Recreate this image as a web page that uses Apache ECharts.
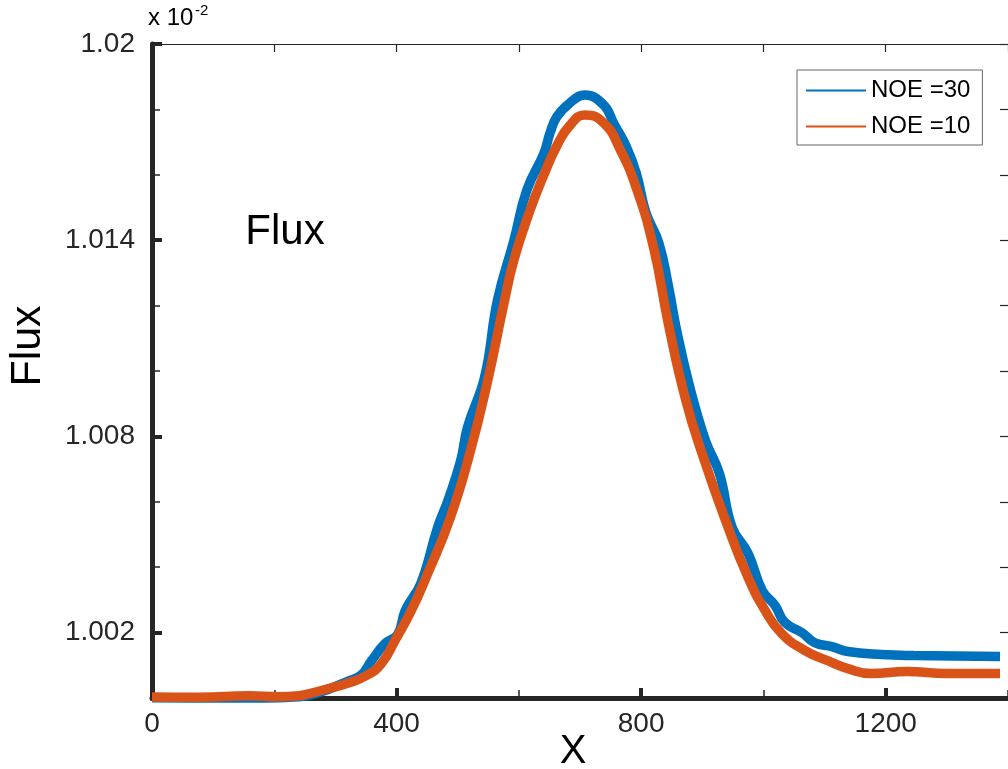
<!DOCTYPE html>
<html>
<head>
<meta charset="utf-8">
<script src="https://cdn.jsdelivr.net/npm/echarts@6/dist/echarts.min.js"></script>
<style>
html,body{margin:0;padding:0;background:#fff;}
#chart{width:1008px;height:769px;}
</style>
</head>
<body>
<div id="chart"></div>
<script>
// ---- data ----
const x30 = [0, 78, 159, 208, 240, 256, 289, 321, 342, 359, 381, 402, 414, 440, 467, 484, 505, 516, 544, 565, 592, 613, 641, 651, 662, 683, 708, 739, 755, 776, 792, 808, 829, 845, 857, 878, 905, 928, 949, 975, 998, 1019, 1035, 1063, 1084, 1112, 1138, 1193, 1246, 1387];
const y30 = [1.00001, 1.00000, 1.00000, 1.00001, 1.00004, 1.00008, 1.00027, 1.00052, 1.00070, 1.00114, 1.00166, 1.00195, 1.00267, 1.00352, 1.00521, 1.00604, 1.00727, 1.00828, 1.00981, 1.01216, 1.01400, 1.01553, 1.01666, 1.01728, 1.01777, 1.01819, 1.01844, 1.01813, 1.01758, 1.01685, 1.01605, 1.01483, 1.01391, 1.01256, 1.01134, 1.00962, 1.00788, 1.00687, 1.00521, 1.00442, 1.00329, 1.00283, 1.00231, 1.00200, 1.00169, 1.00157, 1.00142, 1.00133, 1.00130, 1.00127];
const x10 = [0, 78, 159, 208, 240, 256, 289, 321, 350, 375, 398, 424, 451, 488, 521, 548, 576, 592, 618, 641, 662, 683, 708, 739, 765, 792, 820, 845, 873, 901, 938, 975, 1003, 1030, 1068, 1105, 1138, 1176, 1235, 1300, 1387];
const y10 = [1.00003, 1.00002, 1.00007, 1.00004, 1.00007, 1.00013, 1.00029, 1.00046, 1.00068, 1.00105, 1.00178, 1.00267, 1.00381, 1.00552, 1.00757, 1.00962, 1.01210, 1.01340, 1.01490, 1.01600, 1.01688, 1.01750, 1.01783, 1.01758, 1.01680, 1.01560, 1.01380, 1.01140, 1.00911, 1.00740, 1.00543, 1.00368, 1.00267, 1.00197, 1.00145, 1.00114, 1.00090, 1.00075, 1.00081, 1.00075, 1.00075];
const seriesNames = ['NOE =30', 'NOE =10'];
const xLabelValues = [0, 400, 800, 1200];
const yLabelValues = [1.002, 1.008, 1.014, 1.02];
const yLabelTexts = ['1.002', '1.008', '1.014', '1.02'];

const FONT = 'Liberation Sans, Arial, sans-serif';
const AX = '#262626';
const chart = echarts.init(document.getElementById('chart'), null, {renderer: 'canvas'});

const xBase = {type: 'value', min: 0, max: 1400, gridIndex: 0, splitLine: {show: false}};
const yBase = {type: 'value', min: 1.0, max: 1.02, gridIndex: 0, splitLine: {show: false}};

const option = {
  animation: false,
  backgroundColor: '#fff',
  grid: {left: 152, top: 44, width: 863, height: 654},
  xAxis: [
    Object.assign({}, xBase, {
      position: 'bottom', interval: 200,
      axisLine: {show: true, onZero: false, lineStyle: {color: AX, width: 5}},
      axisTick: {show: true, inside: true, length: 8, lineStyle: {color: AX, width: 1.5}},
      axisLabel: {show: true, customValues: xLabelValues, margin: 12, color: AX, fontSize: 28, fontFamily: FONT,
        formatter: function (v) { return String(Math.round(v)); }}
    }),
    Object.assign({}, xBase, {
      position: 'bottom', interval: 200,
      axisLine: {show: false, onZero: false},
      axisTick: {show: true, inside: true, length: 10, customValues: xLabelValues, lineStyle: {color: AX, width: 4}},
      axisLabel: {show: false}
    }),
    Object.assign({}, xBase, {
      position: 'top', interval: 200,
      axisLine: {show: true, onZero: false, lineStyle: {color: AX, width: 1}},
      axisTick: {show: true, inside: true, length: 8, lineStyle: {color: AX, width: 1.2}},
      axisLabel: {show: false}
    })
  ],
  yAxis: [
    Object.assign({}, yBase, {
      position: 'left', interval: 0.002,
      axisLine: {show: true, onZero: false, lineStyle: {color: AX, width: 5}},
      axisTick: {show: true, inside: true, length: 8, lineStyle: {color: AX, width: 1.5}},
      axisLabel: {
        show: true, customValues: yLabelValues, margin: 17, color: AX, fontSize: 28, fontFamily: FONT,
        formatter: function (v) {
          let best = 0;
          yLabelValues.forEach(function (lv, i) { if (Math.abs(lv - v) < Math.abs(yLabelValues[best] - v)) best = i; });
          return yLabelTexts[best];
        }
      }
    }),
    Object.assign({}, yBase, {
      position: 'left', interval: 0.002,
      axisLine: {show: false, onZero: false},
      axisTick: {show: true, inside: true, length: 10, customValues: yLabelValues, lineStyle: {color: AX, width: 4}},
      axisLabel: {show: false}
    }),
    Object.assign({}, yBase, {
      position: 'right', interval: 0.002,
      axisLine: {show: true, onZero: false, lineStyle: {color: AX, width: 1}},
      axisTick: {show: true, inside: true, length: 8, lineStyle: {color: AX, width: 1.2}},
      axisLabel: {show: false}
    })
  ],
  legend: {
    show: true, orient: 'vertical', left: 797, top: 70,
    padding: [7, 12, 5, 9], itemGap: 9, itemWidth: 60, itemHeight: 2, icon: 'rect',
    borderColor: '#666', borderWidth: 1, backgroundColor: '#fff', borderRadius: 0,
    textStyle: {fontSize: 24, fontFamily: FONT, color: '#000', lineHeight: 27},
    data: seriesNames
  },
  series: [
    {
      type: 'line', name: seriesNames[0], xAxisIndex: 0, yAxisIndex: 0,
      data: x30.map(function (x, i) { return [x, y30[i]]; }),
      symbol: 'none', showSymbol: false, smooth: 0.45, clip: false,
      lineStyle: {color: '#0072BD', width: 9.5}, itemStyle: {color: '#0072BD'}
    },
    {
      type: 'line', name: seriesNames[1], xAxisIndex: 0, yAxisIndex: 0,
      data: x10.map(function (x, i) { return [x, y10[i]]; }),
      symbol: 'none', showSymbol: false, smooth: 0.5, clip: false,
      lineStyle: {color: '#D95319', width: 9.5}, itemStyle: {color: '#D95319'}
    }
  ],
  graphic: [
    {type: 'text', left: 148, top: 6, style: {text: 'x 10', fontSize: 24, fontFamily: FONT, fill: '#000'}},
    {type: 'text', left: 195, top: 3, style: {text: '-2', fontSize: 15, fontFamily: FONT, fill: '#000'}},
    {type: 'text', x: 285, y: 232, style: {text: 'Flux', fontSize: 42, fontFamily: FONT, fill: '#000', align: 'center', verticalAlign: 'middle'}},
    {type: 'text', x: 28, y: 346, rotation: Math.PI / 2, style: {text: 'Flux', fontSize: 43, fontFamily: FONT, fill: '#000', align: 'center', verticalAlign: 'middle'}},
    {type: 'text', x: 573, y: 752, style: {text: 'X', fontSize: 40, fontFamily: FONT, fill: '#000', align: 'center', verticalAlign: 'middle'}}
  ]
};
chart.setOption(option);
</script>
</body>
</html>
